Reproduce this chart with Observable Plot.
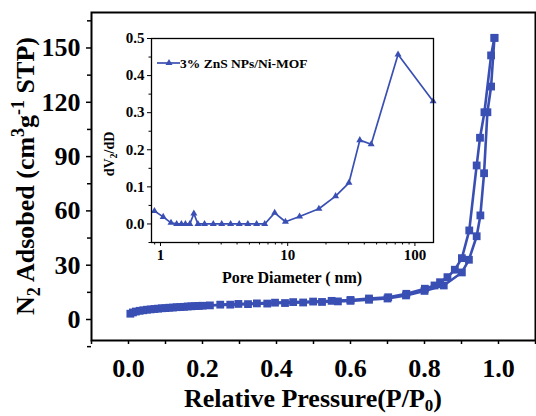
<!DOCTYPE html>
<html><head><meta charset="utf-8">
<script src="https://cdn.jsdelivr.net/npm/d3@7"></script>
<script src="https://cdn.jsdelivr.net/npm/@observablehq/plot@0.6"></script>
<style>
body{margin:0;background:#fff}
#wrap{position:relative;width:536px;height:416px;overflow:hidden;background:#fff}
#inset{position:absolute;left:95px;top:25px}
</style></head><body>
<div id="wrap"><div id="main"></div><div id="inset"></div></div>
<script>
// Adsorption branch
const adsP = [0.005,0.012,0.02,0.03,0.04,0.05,0.06,0.07,0.08,0.09,0.10,0.11,0.12,0.13,0.14,0.15,0.16,0.17,0.18,0.19,0.20,0.22,0.275,0.323,0.375,0.423,0.472,0.523,0.566,0.60,0.65,0.70,0.75,0.80,0.852,0.901,0.920,0.941,0.951,0.961,0.970,0.980,0.989];
const adsV = [3.2,3.9,4.4,4.8,5.1,5.4,5.6,5.8,6.0,6.2,6.3,6.5,6.6,6.8,6.9,7.0,7.2,7.3,7.4,7.5,7.6,7.8,8.2,8.5,8.8,9.1,9.4,9.7,10.0,10.3,10.9,11.6,13.3,15.8,18.8,26.0,33.0,46.0,57.5,80.8,114.5,128.7,155.6];
// Desorption branch
const desP = [0.989,0.980,0.962,0.950,0.941,0.921,0.901,0.882,0.862,0.842,0.827,0.801,0.751,0.702,0.650,0.600,0.549,0.499,0.445,0.396,0.347,0.297,0.248];
const desV = [155.6,145.9,114.5,100.4,85.1,49.2,33.9,27.5,23.4,20.6,18.8,17.0,14.2,12.3,11.6,10.8,10.3,9.9,9.6,9.3,8.9,8.6,8.2];
// Pore size distribution (inset)
const poreD = [0.897,1.05,1.21,1.34,1.46,1.57,1.70,1.83,1.97,2.22,2.6,3.03,3.56,4.16,4.86,5.7,6.6,7.9,9.6,12.4,17.6,23.8,30.3,36.9,45.3,73.7,139];
const poreDV = [0.035,0.019,0.003,0,0,0,0,0.028,0,0,0,0,0,0,0,0,0,0.030,0.006,0.020,0.041,0.075,0.111,0.226,0.215,0.457,0.331];

const mainXTicks = [0,0.2,0.4,0.6,0.8,1.0];
const mainXMinor = [-0.1,0.1,0.3,0.5,0.7,0.9,1.1];
const mainYTicks = [0,30,60,90,120,150];
const mainYMinor = [-15,15,45,75,105,135,165];
const insetXTicks = [1,10,100];
const insetXMinor = [0.9,2,3,4,5,6,7,8,9,20,30,40,50,60,70,80,90];
const insetYTicks = [0,0.1,0.2,0.3,0.4,0.5];
const insetYMinor = [-0.05,0.05,0.15,0.25,0.35,0.45];
const legendLabel = "3% ZnS NPs/Ni-MOF";

const blue = "#3a4fb3";
const font = "'Liberation Serif','Times New Roman',serif";

const ads = adsP.map((p,i)=>({p, v:adsV[i]}));
const des = desP.map((p,i)=>({p, v:desV[i]}));
const pore = poreD.map((d,i)=>({d, v:poreDV[i]}));

const main = Plot.plot({
  width:536, height:416,
  marginLeft:91, marginRight:1, marginTop:12, marginBottom:76,
  style:{fontFamily:font, fontWeight:"bold", fontSize:"26px", background:"white", color:"black"},
  x:{domain:[-0.1,1.1]},
  y:{domain:[-11.6,169.6]},
  marks:[
    Plot.axisX(mainXMinor,{tickSize:4, strokeWidth:1.5, tickFormat:()=>"", label:null}),
    Plot.axisX(mainXTicks,{tickSize:4, strokeWidth:1.5, tickPadding:14, tickFormat:d3.format(".1f"), label:null}),
    Plot.axisY(mainYMinor,{tickSize:4, strokeWidth:1.5, tickFormat:()=>"", label:null}),
    Plot.axisY(mainYTicks,{tickSize:5, strokeWidth:1.5, tickPadding:6, tickFormat:d3.format("d"), label:null}),
    Plot.line(des,{x:"p", y:"v", stroke:blue, strokeWidth:2.6}),
    Plot.line(ads,{x:"p", y:"v", stroke:blue, strokeWidth:2.6}),
    Plot.dot(des,{x:"p", y:"v", symbol:"square", r:4.4, fill:blue}),
    Plot.dot(ads,{x:"p", y:"v", symbol:"square", r:4.4, fill:blue}),
    Plot.frame({stroke:"black", strokeWidth:2})
  ]
});
document.getElementById("main").appendChild(main);

const ms = d3.select(main);
const yl = ms.append("text")
  .attr("transform","translate(34,176) rotate(-90)")
  .attr("text-anchor","middle")
  .attr("font-size",26).attr("font-weight","bold").attr("font-family",font).attr("fill","black");
yl.append("tspan").text("N");
yl.append("tspan").attr("font-size",18).attr("dy",6).text("2");
yl.append("tspan").attr("dy",-6).text(" Adsobed (cm");
yl.append("tspan").attr("font-size",18).attr("dy",-10).text("3");
yl.append("tspan").attr("dy",10).text("g");
yl.append("tspan").attr("font-size",18).attr("dy",-10).text("-1");
yl.append("tspan").attr("dy",10).text(" STP)");

const xl = ms.append("text")
  .attr("x",313).attr("y",407)
  .attr("text-anchor","middle")
  .attr("font-size",26).attr("font-weight","bold").attr("font-family",font).attr("fill","black");
xl.append("tspan").text("Relative Pressure(P/P");
xl.append("tspan").attr("font-size",17).attr("dy",4).text("0");
xl.append("tspan").attr("dy",-4).text(")");

const inset = Plot.plot({
  width:350, height:270,
  marginLeft:56, marginRight:12, marginTop:13, marginBottom:53,
  style:{fontFamily:font, fontWeight:"bold", fontSize:"15px", background:"transparent", color:"black"},
  x:{type:"log", domain:[0.85,140]},
  y:{domain:[-0.05,0.5]},
  marks:[
    Plot.frame({fill:"white", stroke:"none"}),
    Plot.axisX(insetXMinor,{tickSize:2.5, tickFormat:()=>"", label:null}),
    Plot.axisX(insetXTicks,{tickSize:4, tickPadding:3, tickFormat:d=>String(d), label:null}),
    Plot.axisY(insetYMinor,{tickSize:2.5, tickFormat:()=>"", label:null}),
    Plot.axisY(insetYTicks,{tickSize:4, tickPadding:3, tickFormat:d3.format(".1f"), label:null}),
    Plot.line(pore,{x:"d", y:"v", stroke:blue, strokeWidth:1.7}),
    Plot.dot(pore,{x:"d", y:"v", symbol:"triangle", r:2.6, fill:blue}),
    Plot.frame({stroke:"black", strokeWidth:1.3})
  ]
});
document.getElementById("inset").appendChild(inset);

const is = d3.select(inset);
// legend
is.append("line").attr("x1",62).attr("x2",85).attr("y1",38).attr("y2",38)
  .attr("stroke",blue).attr("stroke-width",1.7);
is.append("path").attr("transform","translate(74,38)")
  .attr("d", d3.symbol(d3.symbolTriangle, Math.PI*2.6*2.6)()).attr("fill",blue);
is.append("text").attr("x",85).attr("y",38).attr("dy","0.35em")
  .attr("text-anchor","start")
  .attr("font-size",13.5).attr("font-weight","bold").attr("font-family",font).attr("fill","black")
  .text(legendLabel);
// y label
const il = is.append("text").attr("transform","translate(19,129) rotate(-90)")
  .attr("text-anchor","middle")
  .attr("font-size",14).attr("font-weight","bold").attr("font-family",font).attr("fill","black");
il.append("tspan").text("dV");
il.append("tspan").attr("font-size",10).attr("dy",3).text("2");
il.append("tspan").attr("dy",-3).text("/dD");
// x label
is.append("text").attr("x",197).attr("y",258).attr("text-anchor","middle")
  .attr("font-size",16).attr("font-weight","bold").attr("font-family",font).attr("fill","black")
  .text("Pore Diameter ( nm)");
</script>
</body></html>
